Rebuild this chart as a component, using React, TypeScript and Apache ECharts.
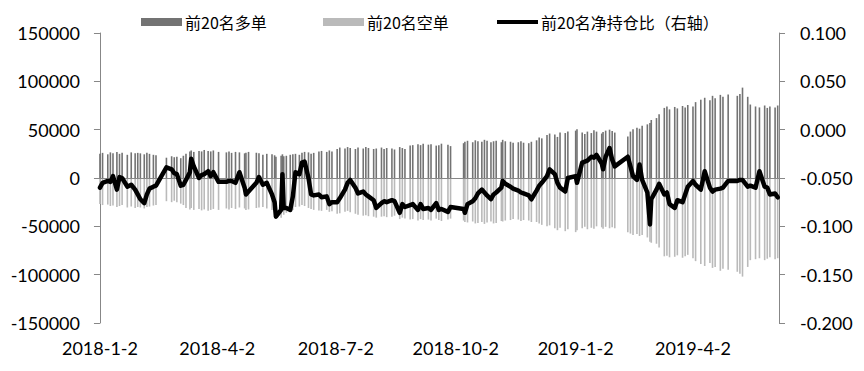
import React, { useEffect, useRef } from "react";
import * as echarts from "echarts";

// Trading dates (subset) and values
const dates: string[] = [
  // 2018-01
  "2018-01-02","2018-01-04","2018-01-08","2018-01-10","2018-01-12","2018-01-15","2018-01-17","2018-01-19","2018-01-23","2018-01-26","2018-01-29","2018-01-31",
  // 2018-02
  "2018-02-02","2018-02-05","2018-02-07","2018-02-09","2018-02-12","2018-02-14","2018-02-22","2018-02-26","2018-02-28",
  // 2018-03
  "2018-03-02","2018-03-05","2018-03-07","2018-03-09","2018-03-12","2018-03-13","2018-03-15","2018-03-19","2018-03-21","2018-03-23","2018-03-26","2018-03-28","2018-03-30",
  // 2018-04
  "2018-04-03","2018-04-09","2018-04-11","2018-04-13","2018-04-16","2018-04-19","2018-04-23","2018-04-24","2018-04-26",
  // 2018-05
  "2018-05-02","2018-05-04","2018-05-07","2018-05-10","2018-05-14","2018-05-16","2018-05-17","2018-05-21","2018-05-22","2018-05-23","2018-05-25","2018-05-28","2018-05-30",
  // 2018-06
  "2018-06-01","2018-06-04","2018-06-06","2018-06-08","2018-06-11","2018-06-13","2018-06-15","2018-06-19","2018-06-21","2018-06-25","2018-06-27","2018-06-29",
  // 2018-07
  "2018-07-03","2018-07-05","2018-07-09","2018-07-11","2018-07-13","2018-07-17","2018-07-19","2018-07-23","2018-07-25","2018-07-27","2018-07-31",
  // 2018-08
  "2018-08-02","2018-08-06","2018-08-08","2018-08-10","2018-08-14","2018-08-16","2018-08-20","2018-08-22","2018-08-24","2018-08-28","2018-08-30",
  // 2018-09
  "2018-09-03","2018-09-05","2018-09-07","2018-09-11","2018-09-13","2018-09-17","2018-09-19","2018-09-21","2018-09-26","2018-09-28",
  // 2018-10
  "2018-10-08","2018-10-09","2018-10-11","2018-10-15","2018-10-17","2018-10-19","2018-10-22","2018-10-24","2018-10-26","2018-10-29","2018-10-31",
  // 2018-11
  "2018-11-02","2018-11-06","2018-11-07","2018-11-09","2018-11-13","2018-11-15","2018-11-19","2018-11-21","2018-11-23","2018-11-27","2018-11-29",
  // 2018-12
  "2018-12-03","2018-12-05","2018-12-07","2018-12-11","2018-12-13","2018-12-17","2018-12-19","2018-12-21","2018-12-25","2018-12-27",
  // 2019-01
  "2019-01-02","2019-01-03","2019-01-07","2019-01-09","2019-01-11","2019-01-14","2019-01-16","2019-01-18","2019-01-22","2019-01-23","2019-01-25","2019-01-28","2019-01-30",
  // 2019-02
  "2019-02-01","2019-02-11","2019-02-13","2019-02-15","2019-02-18","2019-02-20","2019-02-22","2019-02-26","2019-02-28",
  // 2019-03
  "2019-03-01","2019-03-05","2019-03-07","2019-03-11","2019-03-13","2019-03-15","2019-03-19","2019-03-21","2019-03-25","2019-03-27","2019-03-29",
  // 2019-04
  "2019-04-02","2019-04-04","2019-04-08","2019-04-11","2019-04-15","2019-04-17","2019-04-19","2019-04-23","2019-04-25","2019-04-29",
  // 2019-05
  "2019-05-06","2019-05-08","2019-05-10","2019-05-14","2019-05-16","2019-05-20","2019-05-23","2019-05-27","2019-05-29","2019-05-31",
  // 2019-06
  "2019-06-04","2019-06-06",
];

const longs: number[] = [
  25000,26000,24500,26500,25500,27000,25000,26000,24000,26500,25500,26000,
  25500,24500,26000,25000,24000,23500,21000,22500,21500,
  22000,20500,23000,25000,27500,28500,27000,28000,27500,29000,28000,27500,28500,
  27000,26500,27500,26000,27000,26500,25500,26000,27000,
  26000,25500,24000,25000,24500,23500,22000,23000,24500,22500,23000,24000,24500,
  25000,24000,26000,27000,26500,25000,26000,27500,28000,27000,28500,27500,
  30000,31500,30500,32000,31000,30000,31500,30500,32000,31000,30000,
  30500,31500,30000,31000,30500,29500,32000,31000,30000,33500,34000,
  35000,34000,35500,34500,35000,33500,34000,35500,34500,33000,
  36000,37500,38500,37000,39000,38000,37500,39500,38500,37000,38000,
  38500,37000,39500,38000,37500,36500,37000,38000,36500,36000,37500,
  39000,42000,41000,44500,46000,45000,42500,47000,46500,48000,
  49000,50500,47000,45500,48000,46500,49500,48000,46000,47500,49000,50000,48500,
  47000,43000,48000,50500,52000,51000,54000,55500,57000,
  60000,62000,66000,72500,74000,71000,73500,72000,74500,73000,75500,
  74000,78500,81000,83000,80500,85000,82500,86000,84000,86500,
  85000,87000,93500,84000,76000,74000,73000,75000,72500,74000,
  73000,75000,
];

const shorts: number[] = [
  -27000,-28000,-27500,-29000,-28500,-30000,-29000,-28000,-30500,-29500,-31000,-30000,
  -30500,-31500,-30000,-29500,-28500,-28000,-24000,-25000,-23500,
  -25000,-26500,-28000,-31000,-32500,-31000,-33000,-32000,-33500,-32500,-34000,-33000,-32000,
  -33000,-31500,-32500,-31000,-32000,-30500,-31500,-33000,-32500,
  -31000,-30500,-30000,-31500,-33000,-35000,-40000,-41000,-33000,-38000,-36000,-35000,-33000,
  -30000,-29500,-28000,-29000,-31000,-32000,-33000,-33500,-34000,-33000,-35000,-34500,
  -37000,-36500,-35000,-34000,-35500,-37000,-38000,-39000,-38500,-39500,-40000,
  -41000,-40000,-39500,-40500,-40000,-39000,-42500,-41000,-42000,-43000,-42500,
  -44000,-42500,-43500,-43000,-44000,-42000,-43500,-44500,-43000,-42000,
  -44000,-45500,-46000,-45000,-47000,-46500,-45500,-47500,-46000,-45000,-47000,
  -46500,-44500,-45000,-44000,-43500,-42500,-43000,-44500,-43500,-44000,-45500,
  -45500,-47000,-48500,-50000,-49000,-52000,-54000,-51500,-55000,-53000,
  -56000,-54000,-52000,-50500,-53000,-51500,-52500,-50000,-51000,-52500,-50500,-52000,-51000,
  -52000,-56000,-57500,-59000,-58000,-60000,-59000,-61500,-66000,
  -67000,-68000,-72000,-81000,-80500,-82000,-81500,-80000,-82500,-81000,-79500,
  -83000,-86000,-89000,-91000,-88000,-93000,-92000,-96000,-94000,-95000,
  -97000,-99000,-102000,-92000,-85000,-84000,-83000,-85000,-83500,-82000,
  -84000,-83000,
];

const netRatio: number[] = [
  -0.060,-0.055,-0.053,-0.054,-0.048,-0.062,-0.049,-0.050,-0.059,-0.057,-0.062,-0.067,
  -0.072,-0.076,-0.067,-0.061,-0.059,-0.058,-0.039,-0.041,-0.045,
  -0.046,-0.058,-0.057,-0.052,-0.044,-0.030,-0.038,-0.050,-0.047,-0.046,-0.043,-0.048,-0.044,
  -0.054,-0.054,-0.053,-0.053,-0.055,-0.044,-0.060,-0.067,-0.064,
  -0.055,-0.049,-0.057,-0.055,-0.067,-0.075,-0.090,-0.083,-0.046,-0.081,-0.081,-0.083,-0.069,
  -0.044,-0.046,-0.034,-0.033,-0.050,-0.067,-0.068,-0.067,-0.070,-0.069,-0.077,-0.075,
  -0.075,-0.071,-0.062,-0.055,-0.052,-0.060,-0.066,-0.064,-0.067,-0.069,-0.073,
  -0.081,-0.076,-0.074,-0.075,-0.073,-0.074,-0.086,-0.077,-0.080,-0.078,-0.077,
  -0.083,-0.077,-0.082,-0.081,-0.083,-0.076,-0.083,-0.082,-0.085,-0.080,
  -0.082,-0.086,-0.077,-0.074,-0.071,-0.066,-0.062,-0.065,-0.068,-0.072,-0.067,
  -0.065,-0.060,-0.053,-0.056,-0.059,-0.061,-0.063,-0.065,-0.066,-0.068,-0.072,
  -0.063,-0.058,-0.055,-0.048,-0.041,-0.046,-0.055,-0.060,-0.064,-0.050,
  -0.048,-0.055,-0.034,-0.033,-0.032,-0.028,-0.029,-0.026,-0.035,-0.041,-0.028,-0.019,-0.031,
  -0.038,-0.028,-0.038,-0.048,-0.052,-0.036,-0.052,-0.065,-0.098,
  -0.072,-0.062,-0.056,-0.067,-0.065,-0.077,-0.081,-0.073,-0.075,-0.067,-0.059,
  -0.053,-0.057,-0.062,-0.043,-0.060,-0.064,-0.062,-0.061,-0.060,-0.053,
  -0.053,-0.052,-0.052,-0.059,-0.058,-0.060,-0.043,-0.059,-0.060,-0.067,
  -0.066,-0.070,
];

const tickDates: string[] = ["2018-01-02", "2018-04-02", "2018-07-02", "2018-10-02", "2019-01-02", "2019-04-02"];
const tickLabels: string[] = ["2018-1-2", "2018-4-2", "2018-7-2", "2018-10-2", "2019-1-2", "2019-4-2"];

const seriesNames = ["前20名多单", "前20名空单", "前20名净持仓比（右轴）"];

const BASE = Date.parse("2018-01-02");
const toDay = (d: string) => Math.round((Date.parse(d) - BASE) / 86400000);

export default function App() {
  const ref = useRef<HTMLDivElement>(null);
  useEffect(() => {
    if (!ref.current) return;
    const chart = echarts.init(ref.current, undefined, { renderer: "svg" });
    const days = dates.map(toDay);
    const tickDays = tickDates.map(toDay);
    const axisColor = "#878787";
    const fontFamily = "Lato, 'Noto Sans', sans-serif";
    const legendText = { fontFamily: "'Noto Sans CJK SC', sans-serif", fontSize: 16, color: "#000", padding: [0, 0, 0, -2] };
    chart.setOption({
      animation: false,
      grid: { left: 98, right: 85, top: 33, bottom: 48, containLabel: false },
      legend: [
        { data: [seriesNames[0]], left: 141, top: 14, padding: 0, itemWidth: 41, itemHeight: 8, itemGap: 0, textStyle: legendText, icon: "rect" },
        { data: [seriesNames[1]], left: 323, top: 14, padding: 0, itemWidth: 41, itemHeight: 8, itemGap: 0, textStyle: legendText, icon: "rect" },
        {
          data: [{ name: seriesNames[2], icon: "rect", itemStyle: { color: "#000" } }],
          left: 497, top: 14, padding: 0, itemWidth: 41, itemHeight: 4, itemGap: 0, textStyle: legendText,
        },
      ],
      xAxis: {
        type: "value",
        min: -1.5,
        max: 521,
        axisLine: { show: false },
        axisTick: { show: false },
        splitLine: { show: false },
        axisLabel: {
          customValues: tickDays,
          margin: 16,
          fontFamily,
          fontSize: 18,
          color: "#000",
          formatter: (v: number) => {
            const i = tickDays.indexOf(Math.round(v));
            return i >= 0 ? tickLabels[i] : "";
          },
        },
      },
      yAxis: [
        {
          type: "value",
          min: -150000,
          max: 150000,
          interval: 50000,
          axisLine: { show: true, lineStyle: { color: axisColor } },
          axisTick: { show: true, length: 6, lineStyle: { color: axisColor } },
          splitLine: { show: false },
          axisLabel: { margin: 18, fontFamily, fontSize: 18, color: "#000", formatter: (v: number) => String(v) },
        },
        {
          type: "value",
          min: -0.2,
          max: 0.1,
          interval: 0.05,
          position: "right",
          axisLine: { show: true, lineStyle: { color: axisColor } },
          axisTick: { show: true, length: 6, lineStyle: { color: axisColor } },
          splitLine: { show: false },
          axisLabel: { margin: 21, fontFamily, fontSize: 18, color: "#000", formatter: (v: number) => v.toFixed(3) },
        },
      ],
      series: [
        {
          name: seriesNames[0],
          type: "bar",
          stack: "pos",
          barWidth: 1.6,
          itemStyle: { color: "#737373" },
          data: days.map((d, i) => [d, longs[i]]),
          markLine: {
            silent: true,
            symbol: "none",
            label: { show: false },
            lineStyle: { color: axisColor, type: "solid", width: 1 },
            data: [{ yAxis: 0 }],
          },
        },
        {
          name: seriesNames[1],
          type: "bar",
          stack: "pos",
          barWidth: 1.6,
          itemStyle: { color: "#bababa" },
          data: days.map((d, i) => [d, shorts[i]]),
        },
        {
          name: seriesNames[2],
          type: "line",
          yAxisIndex: 1,
          symbol: "none",
          showSymbol: false,
          z: 5,
          lineStyle: { color: "#000", width: 4.5, join: "round", cap: "round" },
          itemStyle: { color: "#000" },
          data: days.map((d, i) => [d, netRatio[i]]),
        },
      ],
    });
    return () => chart.dispose();
  }, []);
  return <div ref={ref} style={{ position: "fixed", left: 0, top: 0, width: 864, height: 371, background: "#fff" }} />;
}
